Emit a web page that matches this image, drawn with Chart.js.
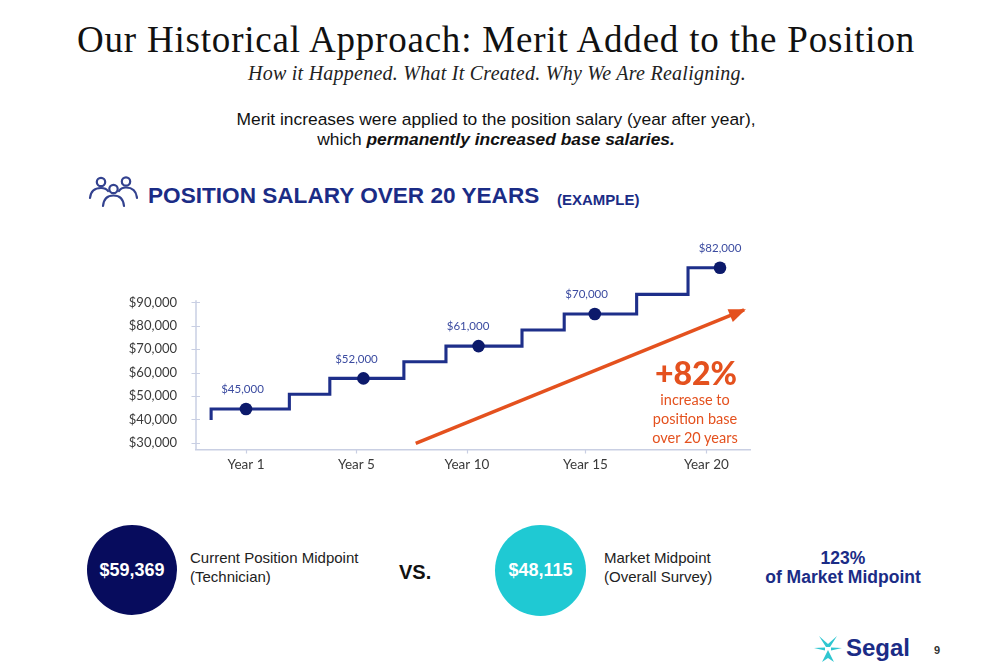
<!DOCTYPE html>
<html><head><meta charset="utf-8">
<script src="https://cdn.jsdelivr.net/npm/chart.js@4.4.0/dist/chart.umd.min.js"></script>
<style>
html,body{margin:0;padding:0;background:#fff;width:1000px;height:666px;overflow:hidden;}
body{position:relative;font-family:"Liberation Sans",Arial,sans-serif;}
.abs{position:absolute;white-space:nowrap;}
#chartBox{position:absolute;left:100px;top:225px;width:660px;height:265px;}
.circle{position:absolute;border-radius:50%;color:#fff;font-weight:bold;font-size:18px;display:flex;align-items:center;justify-content:center;}
</style></head><body>

<div class="abs" style="left:-4px;width:1000px;top:21px;text-align:center;font-family:'Liberation Serif',serif;font-size:37px;line-height:37px;letter-spacing:0.8px;color:#111;">Our Historical Approach: Merit Added to the Position</div>
<div class="abs" style="left:-3px;width:1000px;top:62px;text-align:center;font-family:'Liberation Serif',serif;font-style:italic;font-size:20px;line-height:22px;letter-spacing:0.25px;color:#222;">How it Happened. What It Created. Why We Are Realigning.</div>

<div class="abs" style="left:-4px;width:1000px;top:109px;text-align:center;font-size:17.4px;line-height:20px;color:#111;">Merit increases were applied to the position salary (year after year),<br>which <b><i>permanently increased base salaries.</i></b></div>

<svg class="abs" style="left:86px;top:174px" width="52" height="36" viewBox="0 0 52 36">
  <g fill="none" stroke="#33428f" stroke-width="2.2" stroke-linecap="round">
    <circle cx="15" cy="8" r="4.2"/>
    <circle cx="40" cy="7.5" r="4.2"/>
    <circle cx="27.5" cy="15" r="4.2"/>
    <path d="M4 24 Q5 14 15 14 Q20 14 22 17"/>
    <path d="M51 24 Q50 13.5 40 13.5 Q35 13.5 33 17"/>
    <path d="M17 32 Q18 21.5 27.5 21.5 Q37 21.5 38 32"/>
  </g>
</svg>
<div class="abs" style="left:148px;top:184px;font-size:22.6px;line-height:24px;font-weight:bold;color:#1b2c86;">POSITION SALARY OVER 20 YEARS</div>
<div class="abs" style="left:557px;top:192px;font-size:15px;line-height:16px;font-weight:bold;color:#1b2c86;">(EXAMPLE)</div>

<div id="chartBox"><canvas id="c"></canvas></div>

<div class="abs" style="left:616px;width:160px;top:355px;text-align:center;font-family:Lato,sans-serif;font-weight:900;font-size:32px;line-height:36px;color:#e4511e;">+82%</div>
<div class="abs" style="left:615px;width:160px;top:390px;text-align:center;font-family:Lato,sans-serif;font-size:14.5px;line-height:19px;color:#e4511e;">increase to<br>position base<br>over 20 years</div>

<div class="circle" style="left:87px;top:525px;width:90px;height:90px;background:#070c5d;">$59,369</div>
<div class="abs" style="left:190px;top:549px;font-size:15px;line-height:18.5px;color:#222;">Current Position Midpoint<br>(Technician)</div>
<div class="abs" style="left:399px;top:560px;font-size:20px;line-height:24px;font-weight:bold;color:#111;">VS.</div>
<div class="circle" style="left:495px;top:525px;width:91px;height:91px;background:#1fc9d3;">$48,115</div>
<div class="abs" style="left:604px;top:549px;font-size:15px;line-height:18.5px;color:#222;">Market Midpoint<br>(Overall Survey)</div>
<div class="abs" style="left:743px;width:200px;top:549px;text-align:center;font-size:17.5px;line-height:19px;font-weight:bold;color:#1b2c86;">123%<br>of Market Midpoint</div>

<svg class="abs" style="left:813px;top:635px" width="30" height="28" viewBox="0 0 30 28">
  <g fill="#2fc6d0">
    <path d="M6 1 L15 9 L24 1 L17 12 L13 12 Z"/>
    <path d="M1 13 L12 12.5 L12 15.5 Z"/>
    <path d="M29 13 L18 12.5 L18 15.5 Z"/>
    <path d="M15 15 L21 27 L15 23 L9 27 Z"/>
  </g>
</svg>
<div class="abs" style="left:846px;top:634px;font-size:24px;line-height:28px;font-weight:bold;color:#1b2c86;">Segal</div>
<div class="abs" style="left:934px;top:643px;font-size:11px;line-height:14px;font-weight:bold;color:#333;">9</div>

<script>
// ---- data ----
const xTickLabels = ['Year 1', 'Year 5', 'Year 10', 'Year 15', 'Year 20'];
const xTickValues = [0, 0.95, 1.90, 2.92, 3.96];
const yTickValues = [30000, 40000, 50000, 60000, 70000, 80000, 90000];
const stepX = [-0.30, -0.30, 0.373, 0.721, 1.358, 1.720, 2.374, 2.737, 3.360, 3.802, 4.077];
const stepY = [39700, 44400, 50700, 57500, 64600, 71300, 78200, 85000, 93400, 104800, 104800];
const dotX = [0, 1.01, 2.0, 3.0, 4.077];
const dotY = [44400, 57500, 71300, 85000, 104800];
const dotLabels = ['$45,000', '$52,000', '$61,000', '$70,000', '$82,000'];
const dotLabelX = [-0.03, 0.95, 1.91, 2.93, 4.077];
const arrowX = [1.46, 4.284];
const arrowY = [29760, 86730];

const NAVY_LINE = '#1e2f8a';
const NAVY_DOT = '#0c1a6b';
const ORANGE = '#e4511e';
const AXIS = '#c9cfe3';

const extras = {
  id: 'extras',
  beforeDatasetsDraw(chart) {
    const { ctx, chartArea, scales } = chart;
    const xs = scales.x, ys = scales.y;
    ctx.save();
    ctx.strokeStyle = AXIS;
    ctx.lineWidth = 1.5;
    ctx.beginPath();
    ctx.moveTo(chartArea.left, ys.getPixelForValue(yTickValues[yTickValues.length - 1]) - 2);
    ctx.lineTo(chartArea.left, chartArea.bottom);
    ctx.stroke();
    // y tick marks crossing the axis
    ctx.lineWidth = 1.2;
    ctx.beginPath();
    yTickValues.forEach(v => {
      const p = Math.round(ys.getPixelForValue(v)) + 0.5;
      ctx.moveTo(chartArea.left - 4.5, p);
      ctx.lineTo(chartArea.left + 4, p);
    });
    // x tick marks
    xTickValues.forEach(v => {
      const p = Math.round(xs.getPixelForValue(v)) + 0.5;
      ctx.moveTo(p, chartArea.bottom);
      ctx.lineTo(p, chartArea.bottom + 3.5);
    });
    ctx.stroke();
    ctx.restore();
  },
  afterDatasetsDraw(chart) {
    const { ctx, scales } = chart;
    const xs = scales.x, ys = scales.y;
    ctx.save();
    // arrow head
    const x0 = xs.getPixelForValue(arrowX[0]), y0 = ys.getPixelForValue(arrowY[0]);
    const x1 = xs.getPixelForValue(arrowX[1]), y1 = ys.getPixelForValue(arrowY[1]);
    const a = Math.atan2(y1 - y0, x1 - x0);
    const L = 15, W = 7;
    ctx.fillStyle = ORANGE;
    ctx.beginPath();
    ctx.moveTo(x1 + 2 * Math.cos(a), y1 + 2 * Math.sin(a));
    ctx.lineTo(x1 - L * Math.cos(a) - W * Math.sin(a), y1 - L * Math.sin(a) + W * Math.cos(a));
    ctx.lineTo(x1 - L * Math.cos(a) + W * Math.sin(a), y1 - L * Math.sin(a) - W * Math.cos(a));
    ctx.closePath();
    ctx.fill();
    // dot labels
    ctx.fillStyle = '#3b4ba0';
    ctx.font = '11.5px Lato, sans-serif';
    ctx.textAlign = 'center';
    ctx.textBaseline = 'middle';
    dotLabels.forEach((t, i) => {
      ctx.fillText(t, xs.getPixelForValue(dotLabelX[i]), ys.getPixelForValue(dotY[i]) - 19.5);
    });
    ctx.restore();
  }
};

new Chart(document.getElementById('c'), {
  type: 'line',
  data: {
    datasets: [
      {
        data: stepX.map((x, i) => ({ x, y: stepY[i] })),
        borderColor: NAVY_LINE, borderWidth: 3.1, stepped: 'before',
        pointRadius: 0, fill: false, order: 2
      },
      {
        data: dotX.map((x, i) => ({ x, y: dotY[i] })),
        showLine: false, pointRadius: 6.3, pointBackgroundColor: NAVY_DOT,
        pointBorderColor: NAVY_DOT, pointBorderWidth: 0, order: 1
      },
      {
        data: arrowX.map((x, i) => ({ x, y: arrowY[i] })),
        borderColor: ORANGE, borderWidth: 3.5, pointRadius: 0, fill: false,
        borderCapStyle: 'butt', order: 3, clip: false
      }
    ]
  },
  options: {
    responsive: true, maintainAspectRatio: false, animation: false,
    layout: { padding: { top: 15, right: 10, left: 0, bottom: 0 } },
    plugins: { legend: { display: false }, tooltip: { enabled: false } },
    scales: {
      x: {
        type: 'linear', min: -0.430, max: 4.335,
        afterBuildTicks: (s) => { s.ticks = xTickValues.map(v => ({ value: v })); },
        afterFit: (s) => { s.height = 40; s.paddingLeft = 0; s.paddingRight = 0; },
        ticks: {
          autoSkip: false, maxRotation: 0, padding: 7,
          color: '#3a3a3a', font: { family: 'Lato', size: 13.5 },
          callback: (v, i) => xTickLabels[i]
        },
        grid: { drawOnChartArea: false, drawTicks: false },
        border: { display: true, color: AXIS, width: 1.5 }
      },
      y: {
        type: 'linear', min: 26900, max: 116640,
        afterBuildTicks: (s) => { s.ticks = yTickValues.map(v => ({ value: v })); },
        afterFit: (s) => { s.width = 96; s.paddingTop = 0; s.paddingBottom = 0; },
        ticks: {
          padding: 19, color: '#3a3a3a', font: { family: 'Lato', size: 13 },
          callback: (v) => '$' + Number(v).toLocaleString('en-US')
        },
        grid: { drawOnChartArea: false, drawTicks: false },
        border: { display: false }
      }
    }
  },
  plugins: [extras]
});
</script>
</body></html>
